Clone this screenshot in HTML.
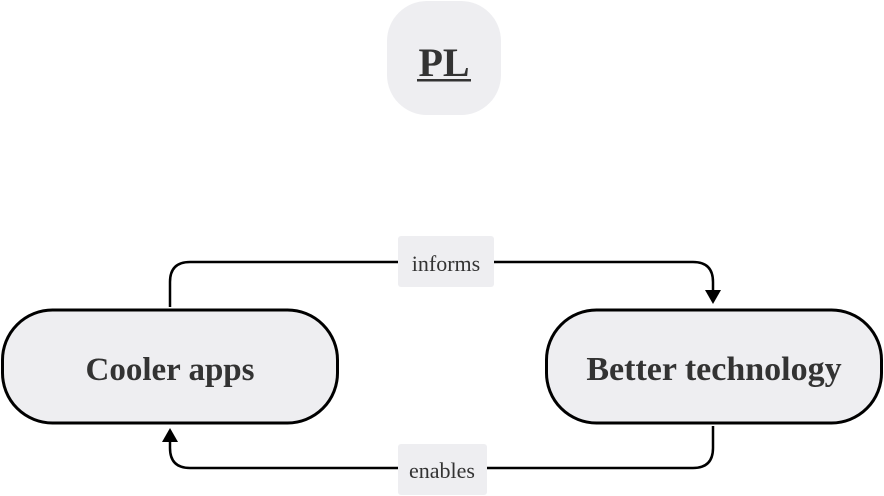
<!DOCTYPE html>
<html><head><style>
html,body{margin:0;padding:0;background:#fff;width:884px;height:496px;overflow:hidden}
svg text{font-family:"Liberation Serif",serif;fill:#333}
</style></head><body>
<svg width="884" height="496" viewBox="0 0 884 496" xmlns="http://www.w3.org/2000/svg">
<rect x="387" y="1" width="114" height="114" rx="40" fill="#eeeef1"/>
<text x="444" y="76" font-size="40" font-weight="bold" text-anchor="middle">PL</text>
<rect x="417" y="79" width="54" height="2.5" fill="#333"/>
<path d="M170 307 V282 Q170 262 190 262 H693 Q713 262 713 282 V291" fill="none" stroke="#000" stroke-width="2.5"/>
<polygon points="705,290 721,290 713,304" fill="#000"/>
<path d="M713 426 V448 Q713 468 693 468 H190 Q170 468 170 448 V442" fill="none" stroke="#000" stroke-width="2.5"/>
<polygon points="162,442 178,442 170,428" fill="#000"/>
<rect x="398" y="236" width="96" height="51" rx="3" fill="#eeeef1"/>
<text x="446" y="271" font-size="22" text-anchor="middle">informs</text>
<rect x="398" y="444" width="89" height="51" rx="3" fill="#eeeef1"/>
<text x="442" y="478" font-size="22" text-anchor="middle">enables</text>
<rect x="2.5" y="310" width="335" height="113" rx="50" fill="#eeeef1" stroke="#000" stroke-width="3"/>
<text x="170" y="380" font-size="33" font-weight="bold" text-anchor="middle">Cooler apps</text>
<rect x="546.5" y="310" width="335" height="113" rx="50" fill="#eeeef1" stroke="#000" stroke-width="3"/>
<text x="714" y="380" font-size="34" font-weight="bold" text-anchor="middle">Better technology</text>
</svg>
</body></html>
